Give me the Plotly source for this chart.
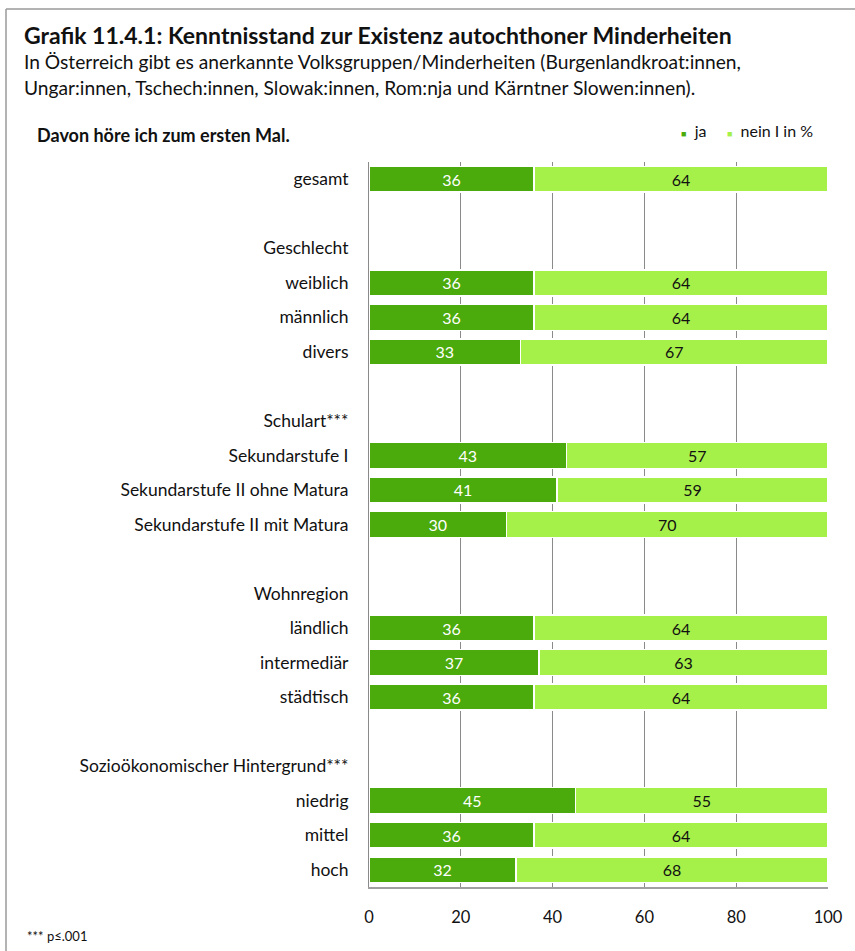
import plotly.graph_objects as go

categories = ["gesamt", " ", "Geschlecht", "weiblich", "männlich", "divers", "  ",
              "Schulart***", "Sekundarstufe I", "Sekundarstufe II ohne Matura",
              "Sekundarstufe II mit Matura", "   ", "Wohnregion", "ländlich", "intermediär",
              "städtisch", "    ", "Sozioökonomischer Hintergrund***", "niedrig", "mittel", "hoch"]
ja = [36, None, None, 36, 36, 33, None, None, 43, 41, 30, None, None, 36, 37, 36, None, None, 45, 36, 32]
nein = [64, None, None, 64, 64, 67, None, None, 57, 59, 70, None, None, 64, 63, 64, None, None, 55, 64, 68]
x_ticks = [0, 20, 40, 60, 80, 100]

W, H = 855, 951
L, R, T, B = 369, 27, 162, 64
PW, PH = W - L - R, H - T - B

def px(x):
    return (x - L) / PW

def py(y):
    return (H - B - y) / PH

FONT = "Lato"
TXT = "#111111"
DARK = "#4BAA0C"
LIGHT = "#A6F04A"

fig = go.Figure()
fig.add_trace(go.Bar(
    y=categories, x=ja, orientation="h", name="ja",
    marker=dict(color=DARK, line=dict(color="white", width=1.5)),
    text=[str(v) if v is not None else "" for v in ja],
    textposition="inside", insidetextanchor="middle",
    textfont=dict(color="white", size=16, family=FONT),
    hoverinfo="x+y",
))
fig.add_trace(go.Bar(
    y=categories, x=nein, orientation="h", name="nein I in %",
    marker=dict(color=LIGHT, line=dict(color="white", width=1.5)),
    text=[str(v) if v is not None else "" for v in nein],
    textposition="inside", insidetextanchor="middle",
    textfont=dict(color=TXT, size=16, family=FONT),
    hoverinfo="x+y",
))

annotations = [
    dict(text="<b>Grafik 11.4.1: Kenntnisstand zur Existenz autochthoner Minderheiten</b>",
         x=px(22), y=py(35), xanchor="left", yanchor="middle", font=dict(size=23)),
    dict(text="In Österreich gibt es anerkannte Volksgruppen/Minderheiten (Burgenlandkroat:innen,",
         x=px(22), y=py(62), xanchor="left", yanchor="middle", font=dict(size=19.2)),
    dict(text="Ungar:innen, Tschech:innen, Slowak:innen, Rom:nja und Kärntner Slowen:innen).",
         x=px(22), y=py(87), xanchor="left", yanchor="middle", font=dict(size=19.2)),
    dict(text="<b>Davon höre ich zum ersten Mal.</b>",
         x=px(35), y=py(135), xanchor="left", yanchor="middle", font=dict(size=18)),
    dict(text=f"<span style='color:{DARK};font-size:9px'>■</span>  ja     "
              f"<span style='color:{LIGHT};font-size:9px'>■</span>  nein I in %",
         x=px(815), y=py(130), xanchor="right", yanchor="middle", font=dict(size=16)),
    dict(text="*** p≤.001",
         x=px(25), y=py(936), xanchor="left", yanchor="middle", font=dict(size=13)),
]
for a in annotations:
    a.update(xref="paper", yref="paper", showarrow=False)
    a["font"]["family"] = FONT
    a["font"]["color"] = TXT

shapes = [
    dict(type="line", xref="paper", yref="paper", x0=px(6), x1=px(W + 5), y0=py(9), y1=py(9),
         line=dict(color="#9a9a9a", width=1.5)),
    dict(type="line", xref="paper", yref="paper", x0=px(6), x1=px(6), y0=py(9), y1=py(H + 5),
         line=dict(color="#9a9a9a", width=1.5)),
]

fig.update_layout(
    barmode="stack", bargap=0.25,
    width=W, height=H,
    margin=dict(l=L, r=R, t=T, b=B, autoexpand=False),
    paper_bgcolor="white", plot_bgcolor="white",
    showlegend=False,
    font=dict(family=FONT, size=15, color=TXT),
    annotations=annotations, shapes=shapes,
    uniformtext=dict(mode="show", minsize=10),
)
fig.update_xaxes(range=[0, 100], tickvals=x_ticks, showgrid=True, gridcolor="#8a8a8a", gridwidth=1,
                 zeroline=False, showline=True, linecolor="#a0a0a0", linewidth=1.5,
                 ticks="", ticklabelstandoff=14, tickfont=dict(size=16.5, family=FONT, color=TXT),
                 fixedrange=True)
fig.update_yaxes(categoryorder="array", categoryarray=categories, autorange="reversed",
                 showgrid=False, zeroline=False, showline=True, linecolor="#8a8a8a", linewidth=1,
                 ticks="", ticklabelstandoff=16, tickfont=dict(size=17.5, family=FONT, color=TXT),
                 fixedrange=True)

fig.write_html("out.html", config={"displayModeBar": False},
               post_script="document.body.style.margin='0';document.body.style.overflow='hidden';")
